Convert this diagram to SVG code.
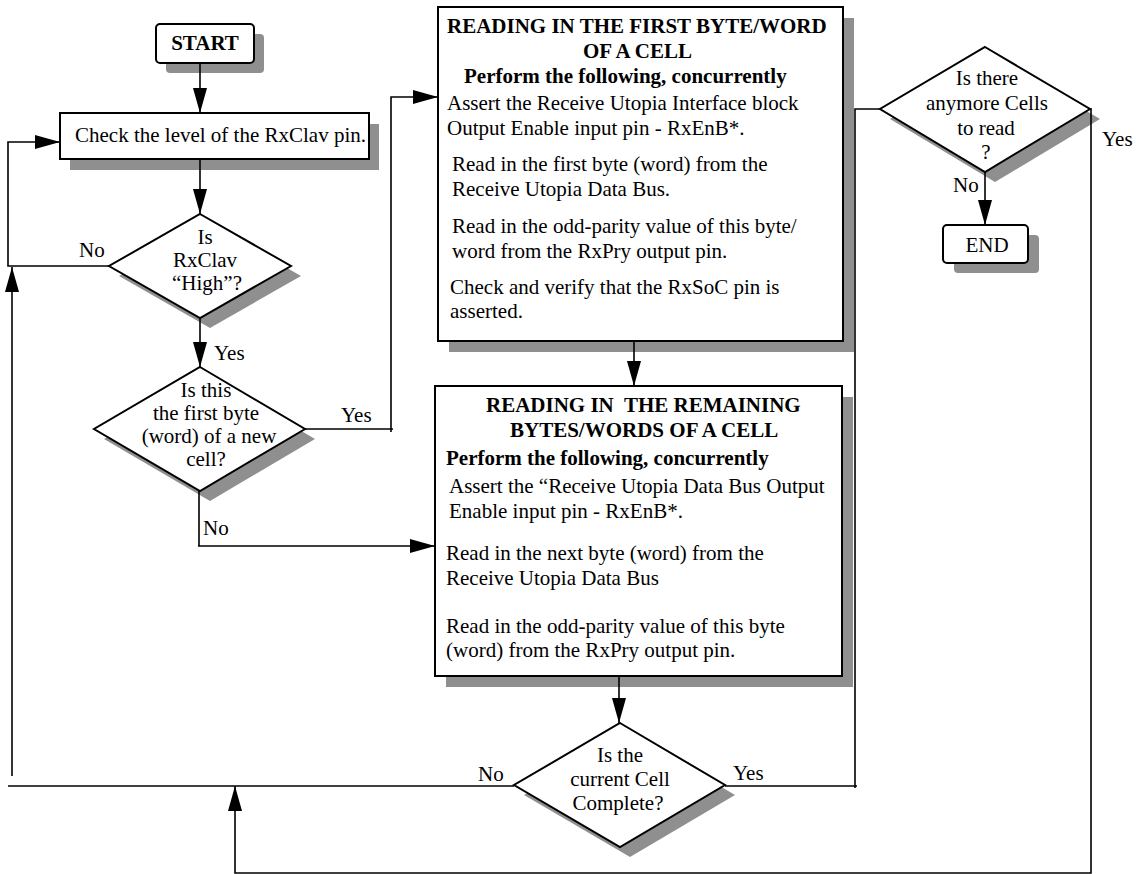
<svg xmlns="http://www.w3.org/2000/svg" width="1136" height="874" viewBox="0 0 1136 874">
<style>
.t{font-family:"Liberation Serif","Times New Roman",Times,serif;font-size:21px;fill:#000}
.b{font-weight:bold}
.c{text-anchor:middle}
.box{fill:#fff;stroke:#000;stroke-width:2}
.sh{fill:#8f8f8f;stroke:none}
.ln{fill:none;stroke:#000;stroke-width:1.6}
</style>
<defs>
<marker id="arrow" viewBox="0 0 25 14" refX="25" refY="7" markerWidth="25" markerHeight="14" orient="auto" markerUnits="userSpaceOnUse">
<path d="M0,0 L25,7 L0,14 Z" fill="#000"/>
</marker>
</defs>
<rect width="1136" height="874" fill="#fff"/>

<g id="start">
<rect class="sh" x="166" y="34" width="98" height="39" rx="4"/>
<rect class="box" x="156" y="24" width="98" height="39" rx="4"/>
<text class="t b c" x="205" y="50">START</text>
</g>

<g id="check">
<rect class="sh" x="70" y="124" width="309" height="46"/>
<rect class="box" x="60" y="113" width="309" height="46"/>
<text class="t" x="75" y="142">Check the level of the RxClav pin.</text>
</g>

<g id="dec-rxclav">
<polygon class="sh" points="210,224 301,276 210,328 119,276"/>
<polygon class="box" points="200,214 291,266 200,318 109,266"/>
<text class="t c" x="205" y="244">Is</text>
<text class="t c" x="205" y="267">RxClav</text>
<text class="t c" x="207" y="290">“High”?</text>
</g>

<g id="dec-first">
<polygon class="sh" points="210,377 315,439 210,501 104,439"/>
<polygon class="box" points="200,367 305,429 200,491 94,429"/>
<text class="t c" x="206" y="397">Is this</text>
<text class="t c" x="206" y="420">the first byte</text>
<text class="t c" x="209" y="443">(word) of a new</text>
<text class="t c" x="206" y="466">cell?</text>
</g>

<g id="box-first">
<rect class="sh" x="449" y="18" width="405" height="334"/>
<rect class="box" x="438" y="7" width="405" height="334"/>
<text class="t b" x="447" y="33">READING IN THE FIRST BYTE/WORD</text>
<text class="t b" x="583" y="58">OF A CELL</text>
<text class="t b" x="464" y="83">Perform the following, concurrently</text>
<text class="t" x="447" y="110">Assert the Receive Utopia Interface block</text>
<text class="t" x="447" y="135">Output Enable input pin - RxEnB*.</text>
<text class="t" x="452" y="171">Read in the first byte (word) from the</text>
<text class="t" x="452" y="196">Receive Utopia Data Bus.</text>
<text class="t" x="452" y="233">Read in the odd-parity value of this byte/</text>
<text class="t" x="452" y="258">word from the RxPry output pin.</text>
<text class="t" x="450" y="294">Check and verify that the RxSoC pin is</text>
<text class="t" x="450" y="318">asserted.</text>
</g>

<g id="box-remaining">
<rect class="sh" x="446" y="397" width="407" height="290"/>
<rect class="box" x="435" y="386" width="407" height="290"/>
<text class="t b" x="486" y="412" xml:space="preserve">READING IN  THE REMAINING</text>
<text class="t b" x="510" y="437">BYTES/WORDS OF A CELL</text>
<text class="t b" x="446" y="465">Perform the following, concurrently</text>
<text class="t" x="449" y="493">Assert the “Receive Utopia Data Bus Output</text>
<text class="t" x="449" y="518">Enable input pin - RxEnB*.</text>
<text class="t" x="446" y="560">Read in the next byte (word) from the</text>
<text class="t" x="446" y="585">Receive Utopia Data Bus</text>
<text class="t" x="446" y="633">Read in the odd-parity value of this byte</text>
<text class="t" x="446" y="657">(word) from the RxPry output pin.</text>
</g>

<g id="dec-complete">
<polygon class="sh" points="630,733 735,795 630,857 524,795"/>
<polygon class="box" points="620,723 725,785 620,847 514,785"/>
<text class="t c" x="620" y="762">Is the</text>
<text class="t c" x="620" y="786">current Cell</text>
<text class="t c" x="618" y="810">Complete?</text>
</g>

<g id="dec-more">
<polygon class="sh" points="995,57 1100,119 995,182 890,119"/>
<polygon class="box" points="985,47 1090,109 985,172 880,109"/>
<text class="t c" x="987" y="85">Is there</text>
<text class="t c" x="987" y="110">anymore Cells</text>
<text class="t c" x="986" y="135">to read</text>
<text class="t c" x="986" y="159">?</text>
</g>

<g id="end">
<rect class="sh" x="954" y="235" width="85" height="38" rx="4"/>
<rect class="box" x="943" y="225" width="85" height="38" rx="4"/>
<text class="t c" x="987" y="252">END</text>
</g>

<g id="connectors">
<path class="ln" d="M200,63 V113" marker-end="url(#arrow)"/>
<path class="ln" d="M200,159 V214" marker-end="url(#arrow)"/>
<path class="ln" d="M109,266 H8 V142 H60" marker-end="url(#arrow)"/>
<path class="ln" d="M200,318 V367" marker-end="url(#arrow)"/>
<path class="ln" d="M305,429 H393 M391,432 V97 H438" marker-end="url(#arrow)"/>
<path class="ln" d="M199,491 V546 M198,546 H435" marker-end="url(#arrow)"/>
<path class="ln" d="M634,341 V386" marker-end="url(#arrow)"/>
<path class="ln" d="M619,676 V723" marker-end="url(#arrow)"/>
<path class="ln" d="M514,786 H8"/>
<path class="ln" d="M725,786 H857 M855,788 V109 H880"/>
<path class="ln" d="M985,172 V225" marker-end="url(#arrow)"/>
<path class="ln" d="M1090,109 H1091 V873 H235 V786" marker-end="url(#arrow)"/>
<path class="ln" d="M12,776 V267" marker-end="url(#arrow)"/>
<text class="t" x="79" y="257">No</text>
<text class="t" x="214" y="360">Yes</text>
<text class="t" x="341" y="422">Yes</text>
<text class="t" x="203" y="535">No</text>
<text class="t" x="953" y="192">No</text>
<text class="t" x="1102" y="146">Yes</text>
<text class="t" x="478" y="781">No</text>
<text class="t" x="733" y="780">Yes</text>
</g>
</svg>
